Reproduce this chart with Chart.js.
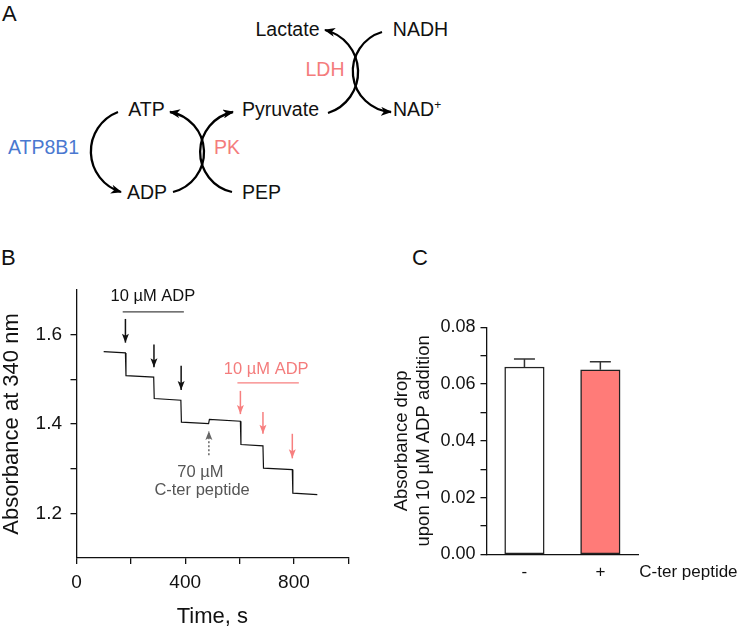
<!DOCTYPE html>
<html>
<head>
<meta charset="utf-8">
<script src="https://cdn.jsdelivr.net/npm/chart.js@4"></script>
<style>
  body { margin: 0; width: 737px; height: 630px; background: #fff; position: relative; overflow: hidden;
         font-family: "Liberation Sans", Arial, sans-serif; color: #111; }
  .t { position: absolute; white-space: nowrap; line-height: 1; transform: translate(-50%, -50%); font-size: 19.5px; }
  .l { position: absolute; white-space: nowrap; line-height: 1; transform: translateY(-50%); font-size: 19.5px; }
  .red { color: #f47c7c; }
  .blue { color: #4a78d0; }
  .panel { font-size: 22px; }
  canvas { position: absolute; }
  sup { font-size: 12px; vertical-align: 7px; line-height: 0; }
</style>
</head>
<body>

<!-- panel A: coupled enzyme scheme -->
<svg width="480" height="220" style="position:absolute;left:0;top:0">
  <defs>
    <marker id="ah" viewBox="0 0 11 9" refX="10" refY="4.5" markerWidth="11" markerHeight="9" markerUnits="userSpaceOnUse" orient="auto">
      <path d="M0,0 L11,4.5 L0,9 L3,4.5 z" fill="#000"/>
    </marker>
  </defs>
  <g fill="none" stroke="#000" stroke-width="2.3" marker-end="url(#ah)">
    <path d="M118,112 A42.3,42.3 0 0 0 121,192"/>
    <path d="M173,192 A40.9,40.9 0 0 0 170,112"/>
    <path d="M232,192 A40.9,40.9 0 0 1 233,112"/>
    <path d="M328,113 A43.1,43.1 0 0 0 325,30"/>
    <path d="M382,32 A40.9,40.9 0 0 0 391,112"/>
  </g>
</svg>
<div class="l panel" style="left:2px;top:14px">A</div>
<div class="t" style="left:287.5px;top:30px">Lactate</div>
<div class="t" style="left:420.5px;top:30px">NADH</div>
<div class="t red" style="left:325px;top:70px">LDH</div>
<div class="t" style="left:280.5px;top:110px">Pyruvate</div>
<div class="l" style="left:393px;top:110px">NAD<sup>+</sup></div>
<div class="t" style="left:146.5px;top:110px">ATP</div>
<div class="t blue" style="left:43.5px;top:148px">ATP8B1</div>
<div class="t red" style="left:227px;top:148px">PK</div>
<div class="t" style="left:147px;top:193px">ADP</div>
<div class="t" style="left:261.5px;top:193px">PEP</div>

<div class="l panel" style="left:1px;top:258px">B</div>
<div class="l panel" style="left:412px;top:258px">C</div>

<canvas id="chartB" width="370" height="360" style="left:0;top:270px"></canvas>
<canvas id="chartC" width="367" height="360" style="left:370px;top:270px"></canvas>

<script>
// ---- panel B: absorbance trace ----
const timeS = [100, 180, 182, 284, 286, 384, 386, 486, 489, 603, 605, 686, 688, 794, 796, 886];
const absorb = [1.562, 1.559, 1.508, 1.505, 1.457, 1.453, 1.404, 1.401, 1.410, 1.406, 1.354, 1.351, 1.301, 1.298, 1.245, 1.242];
const xTicks = [0, 200, 400, 600, 800, 1000];
const xLabels = [0, 400, 800];
const yTicks = [1.2, 1.3, 1.4, 1.5, 1.6];
const yLabels = [1.2, 1.4, 1.6];

// ADP additions (arrow time, arrow top, arrow tip)
const blackArrowT = [180, 285, 385];
const blackArrowTop = [1.635, 1.578, 1.530];
const blackArrowTip = [1.582, 1.527, 1.476];
const redArrowT = [603, 686, 794];
const redArrowTop = [1.474, 1.427, 1.378];
const redArrowTip = [1.422, 1.378, 1.323];
const peptideArrow = [487, 1.330, 1.384];

// ---- panel C: bar chart ----
const groups = ['-', '+'];
const dropMean = [0.066, 0.065];
const dropSem = [0.0028, 0.0028];
const cTicks = [0, 0.01, 0.02, 0.03, 0.04, 0.05, 0.06, 0.07, 0.08];

const FONT = '"Liberation Sans", Arial, sans-serif';
Chart.defaults.font.family = FONT;
Chart.defaults.color = '#111';

function drawArrow(ctx, px, y0, y1, color, dotted) {
  ctx.strokeStyle = color;
  ctx.fillStyle = color;
  ctx.lineWidth = 1.5;
  ctx.setLineDash(dotted ? [2, 2] : []);
  ctx.beginPath();
  ctx.moveTo(px, y0);
  ctx.lineTo(px, y1);
  ctx.stroke();
  ctx.setLineDash([]);
  const d = Math.sign(y1 - y0);
  ctx.beginPath();
  ctx.moveTo(px, y1);
  ctx.lineTo(px - 3.5, y1 - d * 9);
  ctx.lineTo(px, y1 - d * 7);
  ctx.lineTo(px + 3.5, y1 - d * 9);
  ctx.closePath();
  ctx.fill();
}

const annotB = {
  id: 'annotB',
  afterDatasetsDraw(chart) {
    const { ctx, scales: { x, y } } = chart;
    ctx.save();
    blackArrowT.forEach((t, i) =>
      drawArrow(ctx, x.getPixelForValue(t), y.getPixelForValue(blackArrowTop[i]), y.getPixelForValue(blackArrowTip[i]), '#111', false));
    redArrowT.forEach((t, i) =>
      drawArrow(ctx, x.getPixelForValue(t), y.getPixelForValue(redArrowTop[i]), y.getPixelForValue(redArrowTip[i]), '#f77f7f', false));
    drawArrow(ctx, x.getPixelForValue(peptideArrow[0]), y.getPixelForValue(peptideArrow[1]), y.getPixelForValue(peptideArrow[2]), '#666', true);

    // bars over the additions
    ctx.lineWidth = 1.3;
    ctx.strokeStyle = '#444';
    ctx.beginPath();
    ctx.moveTo(x.getPixelForValue(170), y.getPixelForValue(1.651));
    ctx.lineTo(x.getPixelForValue(395), y.getPixelForValue(1.651));
    ctx.stroke();
    ctx.strokeStyle = '#f77f7f';
    ctx.beginPath();
    ctx.moveTo(x.getPixelForValue(592), y.getPixelForValue(1.492));
    ctx.lineTo(x.getPixelForValue(818), y.getPixelForValue(1.492));
    ctx.stroke();

    ctx.font = '16.5px ' + FONT;
    ctx.textAlign = 'center';
    ctx.textBaseline = 'middle';
    ctx.fillStyle = '#111';
    ctx.fillText('10 µM ADP', x.getPixelForValue(281), y.getPixelForValue(1.686));
    ctx.fillStyle = '#f47c7c';
    ctx.fillText('10 µM ADP', x.getPixelForValue(698), y.getPixelForValue(1.523));
    ctx.fillStyle = '#555';
    ctx.fillText('70 µM', x.getPixelForValue(456), y.getPixelForValue(1.291));
    ctx.fillText('C-ter peptide', x.getPixelForValue(462), y.getPixelForValue(1.251));
    ctx.restore();
  }
};

new Chart(document.getElementById('chartB'), {
  type: 'line',
  data: {
    datasets: [{
      data: timeS.map((t, i) => ({ x: t, y: absorb[i] })),
      borderColor: '#111',
      borderWidth: 1.2,
      pointRadius: 0,
      tension: 0,
      fill: false
    }]
  },
  options: {
    responsive: false,
    animation: false,
    layout: { padding: { left: 0, right: 21.7, top: 16.5, bottom: 0 }, autoPadding: false },
    plugins: { legend: { display: false }, tooltip: { enabled: false } },
    scales: {
      x: {
        type: 'linear', min: 0, max: 1000,
        afterBuildTicks: a => { a.ticks = xTicks.map(v => ({ value: v })); },
        afterFit: s => { s.height = 72; },
        ticks: { callback: v => xLabels.includes(v) ? String(v) : '', font: { size: 19 }, color: '#111', padding: 7.6, maxRotation: 0, autoSkip: false },
        grid: { drawOnChartArea: false, tickLength: 6, color: '#111', lineWidth: 1.3 },
        border: { color: '#111', width: 1.3 },
        title: { display: true, text: 'Time, s', font: { size: 22 }, color: '#111', padding: 0 }
      },
      y: {
        min: 1.1, max: 1.7,
        afterBuildTicks: a => { a.ticks = yTicks.map(v => ({ value: v })); },
        afterFit: s => { s.width = 76.5; },
        ticks: { callback: v => yLabels.some(l => Math.abs(l - v) < 1e-6) ? v.toFixed(1) : '', font: { size: 19 }, color: '#111', padding: 8.5, autoSkip: false },
        grid: { drawOnChartArea: false, tickLength: 6, color: '#111', lineWidth: 1.3 },
        border: { color: '#111', width: 1.3 },
        title: { display: true, text: 'Absorbance at 340 nm', font: { size: 22, lineHeight: 1.1 }, color: '#111', padding: 0 }
      }
    }
  },
  plugins: [annotB]
});

const annotC = {
  id: 'annotC',
  afterDatasetsDraw(chart) {
    const { ctx, scales: { y }, chartArea } = chart;
    const meta = chart.getDatasetMeta(0);
    ctx.save();
    ctx.strokeStyle = '#333';
    ctx.lineWidth = 1.5;
    meta.data.forEach((bar, i) => {
      const yTop = y.getPixelForValue(dropMean[i] + dropSem[i]);
      ctx.beginPath();
      ctx.moveTo(bar.x, y.getPixelForValue(dropMean[i]));
      ctx.lineTo(bar.x, yTop);
      ctx.moveTo(bar.x - 10.5, yTop);
      ctx.lineTo(bar.x + 10.5, yTop);
      ctx.stroke();
    });
    ctx.font = '17px ' + FONT;
    ctx.fillStyle = '#111';
    ctx.textAlign = 'left';
    ctx.textBaseline = 'middle';
    ctx.fillText('C-ter peptide', chartArea.right + 1, 302.3);
    ctx.restore();
  }
};

new Chart(document.getElementById('chartC'), {
  type: 'bar',
  data: {
    labels: groups,
    datasets: [{
      data: dropMean,
      backgroundColor: ['#ffffff', '#ff7b78'],
      borderColor: '#222',
      borderWidth: 1.5,
      borderSkipped: false,
      barThickness: 39.5
    }]
  },
  options: {
    responsive: false,
    animation: false,
    layout: { padding: { left: 0, right: 98.7, top: 57.2, bottom: 0 }, autoPadding: false },
    plugins: { legend: { display: false }, tooltip: { enabled: false } },
    scales: {
      x: {
        afterFit: s => { s.height = 75.5; },
        ticks: { font: { size: 17 }, color: '#111', padding: 7.6 },
        grid: { display: true, drawOnChartArea: false, drawTicks: false },
        border: { color: '#111', width: 1.3 }
      },
      y: {
        min: 0, max: 0.08,
        afterBuildTicks: a => { a.ticks = cTicks.map(v => ({ value: v })); },
        afterFit: s => { s.width = 116.5; },
        ticks: { callback: v => Math.round(v * 100) % 2 === 0 ? v.toFixed(2) : '', font: { size: 18 }, color: '#111', padding: 5, autoSkip: false },
        grid: { drawOnChartArea: false, tickLength: 6, color: '#111', lineWidth: 1.3 },
        border: { color: '#111', width: 1.3 },
        title: { display: true, text: ['Absorbance drop', 'upon 10 µM ADP addition'], font: { size: 18.5, lineHeight: 1.168 }, color: '#111', padding: { top: 21, bottom: 0 } }
      }
    }
  },
  plugins: [annotC]
});
</script>
</body>
</html>
